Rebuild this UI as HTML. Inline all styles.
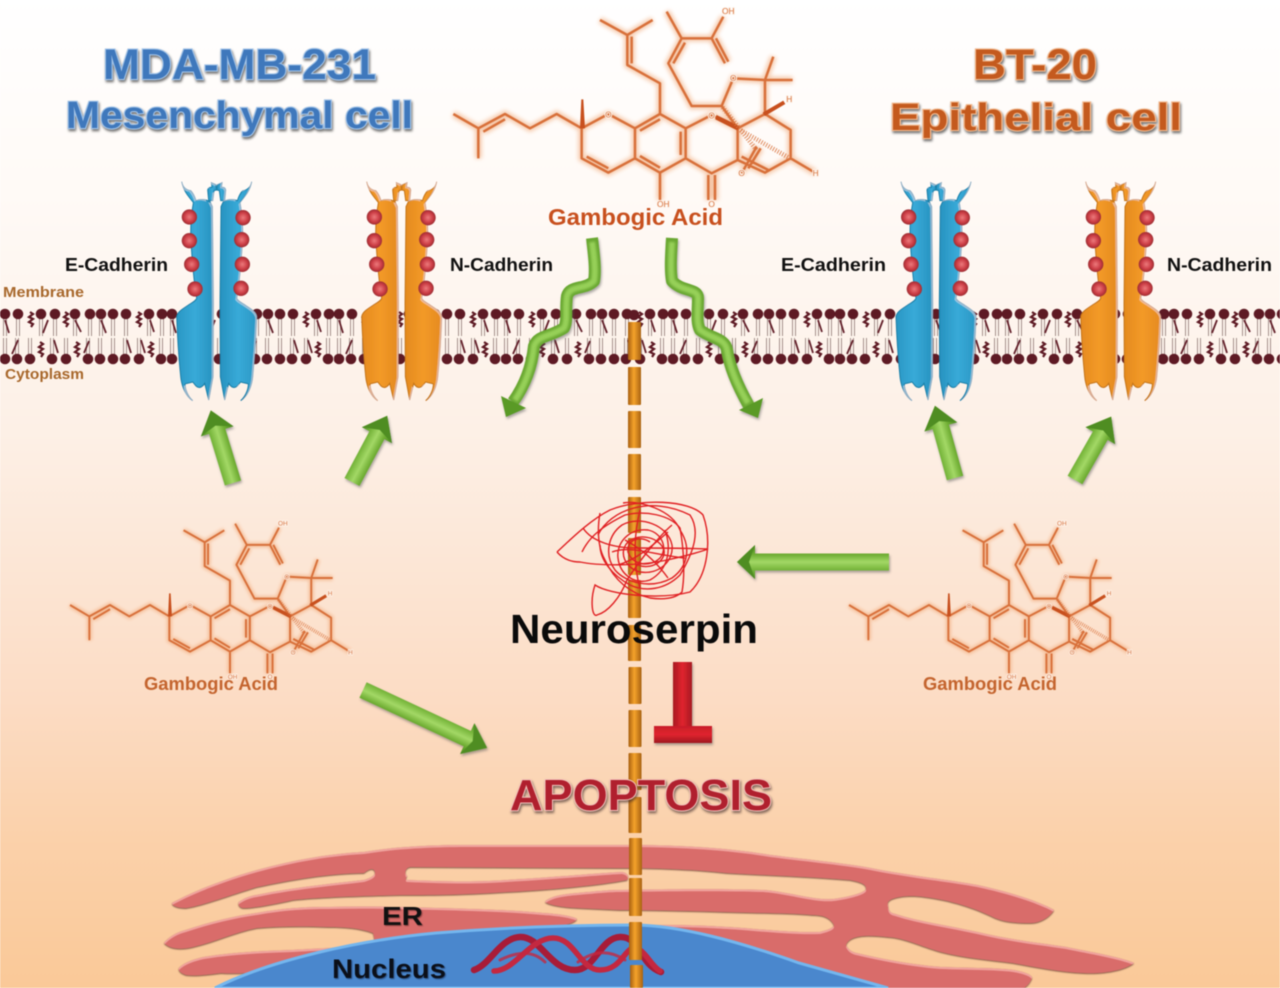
<!DOCTYPE html>
<html lang="en">
<head>
<meta charset="utf-8">
<title>Gambogic Acid diagram</title>
<style>
html,body{margin:0;padding:0;background:#fff}
body{width:1280px;height:988px;overflow:hidden}
svg{display:block;filter:blur(.45px)}
text{font-family:"Liberation Sans",Arial,sans-serif;font-weight:bold}
.title{paint-order:stroke;stroke-width:2.2px}
.tb{fill:#3f78bc;stroke:#a3c4e8;filter:drop-shadow(1.5px 2.5px 1.2px rgba(50,50,50,.7))}
.to{fill:#c45a1e;stroke:#f2b98f;filter:drop-shadow(1.5px 2.5px 1.2px rgba(50,50,50,.7))}
.lab{fill:#a8682c}
.mtext{font-size:25px;font-weight:normal;fill:#d9743f;paint-order:stroke;stroke:#fdf4ec;stroke-width:6px;text-anchor:middle}
</style>
</head>
<body>
<svg width="1280" height="988" viewBox="0 0 1280 988" xmlns="http://www.w3.org/2000/svg">
<defs>
<linearGradient id="bg" x1="0" y1="0" x2="0" y2="1">
<stop offset="0" stop-color="#ffffff"/><stop offset=".2" stop-color="#fffaf6"/><stop offset=".44" stop-color="#fdf0e6"/><stop offset=".71" stop-color="#fcdcc4"/><stop offset=".85" stop-color="#fbd1aa"/><stop offset="1" stop-color="#fac998"/>
</linearGradient>
<linearGradient id="gb" x1="0" y1="0" x2="1" y2="0"><stop offset="0" stop-color="#2a97c4"/><stop offset=".5" stop-color="#38aad8"/><stop offset="1" stop-color="#2792bf"/></linearGradient>
<linearGradient id="go" x1="0" y1="0" x2="1" y2="0"><stop offset="0" stop-color="#e58a1f"/><stop offset=".5" stop-color="#f39a28"/><stop offset="1" stop-color="#e48a1e"/></linearGradient>
<radialGradient id="bead" cx=".5" cy=".5" r=".55"><stop offset="0" stop-color="#ec7a7c"/><stop offset=".6" stop-color="#cb3c44"/><stop offset="1" stop-color="#8f2a2e"/></radialGradient>
<linearGradient id="seg" x1="0" y1="0" x2="1" y2="0"><stop offset="0" stop-color="#a86010"/><stop offset=".45" stop-color="#f5a32b"/><stop offset="1" stop-color="#a86212"/></linearGradient>
<linearGradient id="arr" x1="0" y1="0" x2="0" y2="1"><stop offset="0" stop-color="#4f8f22"/><stop offset=".28" stop-color="#78b63c"/><stop offset=".5" stop-color="#a3d866"/><stop offset=".72" stop-color="#6fad33"/><stop offset="1" stop-color="#4a8a1f"/></linearGradient>
<linearGradient id="red" x1="0" y1="0" x2="1" y2="0"><stop offset="0" stop-color="#a81a22"/><stop offset=".5" stop-color="#e0242e"/><stop offset="1" stop-color="#a81a22"/></linearGradient>
<linearGradient id="redh" x1="0" y1="0" x2="0" y2="1"><stop offset="0" stop-color="#c81e28"/><stop offset=".5" stop-color="#e0242e"/><stop offset="1" stop-color="#a01820"/></linearGradient>
<filter id="gl" x="-10%" y="-10%" width="120%" height="120%"><feGaussianBlur stdDeviation="6"/></filter>
<filter id="sa" x="-20%" y="-20%" width="140%" height="140%"><feDropShadow dx="1" dy="2" stdDeviation="1.2" flood-color="#555" flood-opacity=".5"/></filter>
<filter id="soft" x="-10%" y="-10%" width="120%" height="120%"><feGaussianBlur stdDeviation="1"/></filter>
<filter id="bev" x="-5%" y="-5%" width="110%" height="110%">
<feOffset in="SourceAlpha" dy="2" result="o"/><feComposite in="SourceAlpha" in2="o" operator="out" result="edge"/><feFlood flood-color="#f3a8a2" flood-opacity=".9"/><feComposite in2="edge" operator="in" result="hl"/>
<feDropShadow in="SourceGraphic" dx="0" dy=".8" stdDeviation=".8" flood-color="#5a2e28" flood-opacity=".85" result="s"/>
<feMerge><feMergeNode in="s"/><feMergeNode in="hl"/></feMerge>
</filter>
<filter id="bevw" x="-5%" y="-5%" width="110%" height="110%">
<feOffset in="SourceAlpha" dx="-6" dy="4" result="o"/><feComposite in="SourceAlpha" in2="o" operator="out" result="edge"/><feFlood flood-color="#ffffff" flood-opacity=".28"/><feComposite in2="edge" operator="in" result="hl"/>
<feMerge><feMergeNode in="SourceGraphic"/><feMergeNode in="hl"/></feMerge>
</filter>

<pattern id="lip" patternUnits="userSpaceOnUse" x="0" y="306" width="167" height="62">
<path fill="none" stroke="#9b8582" stroke-width=".9" d="M3.5 12V30M6.5 12V30M16.5 12V30M19.5 12V30M39.5 12V30M42.5 12V30M53.5 12V30M56.5 12V30M73.5 12V30M76.5 12V30M88.5 12V30M91.5 12V30M99.5 12V30M102.5 12V30M111.5 12V30M114.5 12V30M124.5 12V30M127.5 12V30M147.5 12V30M150.5 12V30M160.5 12V30M163.5 12V30
M3.5 49V32M6.5 49V32M15.5 49V32M18.5 49V32M28.5 49V32M31.5 49V32M50.5 49V32M53.5 49V32M64.5 49V32M67.5 49V32M86.5 49V32M89.5 49V32M98.5 49V32M101.5 49V32M111.5 49V32M114.5 49V32M123.5 49V32M126.5 49V32M137.5 49V32M140.5 49V32M159.5 49V32M162.5 49V32"/>
<path fill="none" stroke="#63202a" stroke-width="1.8" d="M5 14L9 27M43 27L48 14M75 14L81 26M101 14L106 27M150 14L154 26M18 34L12 48M54 34L58 47M89 35L84 47M127 34L131 47M141 34L145 47"/>
<path fill="none" stroke="#5e1a24" stroke-width="2.2" d="M30 6l3 2-4 3 4 2-4 3 4 2-2 3M65 6l3 2-4 3 4 2-4 3 4 2-2 3M138 6l3 2-4 3 4 2-4 3 4 2-2 3M40 36l3 2-4 3 4 2-4 3 4 2-2 3M76 36l3 2-4 3 4 2-4 3 4 2-2 3M150 36l3 2-4 3 4 2-4 3 4 2-2 3"/>
<g fill="#5e1a24">
<circle cx="5" cy="8" r="5.3"/><circle cx="18" cy="8" r="5.3"/><circle cx="41" cy="8" r="5.3"/><circle cx="55" cy="8" r="5.3"/><circle cx="75" cy="8" r="5.3"/><circle cx="90" cy="8" r="5.3"/><circle cx="101" cy="8" r="5.3"/><circle cx="113" cy="8" r="5.3"/><circle cx="126" cy="8" r="5.3"/><circle cx="149" cy="8" r="5.3"/><circle cx="162" cy="8" r="5.3"/>
<circle cx="5" cy="53" r="5.3"/><circle cx="17" cy="53" r="5.3"/><circle cx="30" cy="53" r="5.3"/><circle cx="52" cy="53" r="5.3"/><circle cx="66" cy="53" r="5.3"/><circle cx="88" cy="53" r="5.3"/><circle cx="100" cy="53" r="5.3"/><circle cx="113" cy="53" r="5.3"/><circle cx="125" cy="53" r="5.3"/><circle cx="139" cy="53" r="5.3"/><circle cx="161" cy="53" r="5.3"/>
</g>
</pattern>

<g id="half">
<path d="M-105,35 C-102,52 -90,60 -78,62 C-70,70 -66,80 -62,92 C-50,86 -32,88 -20,95 L-13,110 L-10,400 L-11,620 L-24,690 L-36,640 C-45,655 -55,655 -62,648 L-72,636 C-85,640 -92,640 -95,642 C-95,660 -85,680 -72,692 C-92,680 -105,650 -108,620 C-114,560 -118,500 -120,440 C-118,425 -100,415 -85,405 C-72,397 -62,392 -60,385 C-68,340 -76,250 -78,190 C-78,150 -74,120 -70,98 C-78,85 -98,70 -105,35 Z"/>
<path d="M-24,92 L-27,60 C-25,50 -18,52 -14,52 L-16,38 L-2,44 L0,60 L-8,62 L-12,92 Z"/>
</g>
<g id="cad">
<g filter="url(#bevw)">
<use href="#half"/>
<use href="#half" transform="scale(-1,1)"/>
</g>
<g fill="url(#bead)" stroke="none">
<circle cx="-82" cy="141" r="23"/><circle cx="-82" cy="212" r="23"/><circle cx="-75" cy="283" r="23"/><circle cx="-65" cy="357" r="23"/>
<circle cx="79" cy="143" r="23"/><circle cx="75" cy="209" r="23"/><circle cx="77" cy="283" r="23"/><circle cx="73" cy="355" r="23"/>
</g>
</g>

<path id="bonds" d="M40,342L115,385L195,342L270,385L350,342L425,385M115,385V475M130,395L195,358M425,385L505,342L585,385V475L505,518L425,475V385M440,470L505,505M585,385L660,342L737,385V475L660,518L585,475M600,392L660,358M600,468L660,503M722,395V465M737,385L815,345L893,385V480L815,520L737,475M660,342V250L562,195V105L480,60M562,105L638,60M575,110V190M660,518V600M805,525V600M825,525V600M893,385L975,342L1052,390V475L975,518L893,480M905,470L985,510M975,342V240L880,235L845,318L893,385M975,240L1000,170M975,240L1058,240M845,318H755L685,190L725,115L680,35M700,190L735,128M725,115H815L850,50M815,115L855,190M828,115L865,185M1052,475L1125,518M950,440L905,520M962,445L925,505"/>
<g id="mol">
<use href="#bonds" fill="none" stroke="#f0a878" stroke-width="20" opacity=".6" filter="url(#gl)"/>
<use href="#bonds" fill="none" stroke="#d8703a" stroke-width="7.5" stroke-linejoin="round"/>
<path fill="#c8501e" d="M420,385L435,385L430,298L424,298Z M893,392L898,378L830,345L826,358Z M975,348L968,338L1030,302L1036,312Z"/>
<path fill="none" stroke="#d9743f" stroke-width="14" stroke-dasharray="3 5" d="M895,387L1050,475M848,322L950,450" opacity=".85"/>
<text class="mtext" x="505" y="353">O</text><text class="mtext" x="815" y="355">O</text><text class="mtext" x="880" y="243">O</text><text class="mtext" x="865" y="42">OH</text><text class="mtext" x="905" y="528">O</text><text class="mtext" x="815" y="621">O</text><text class="mtext" x="670" y="621">OH</text><text class="mtext" x="1048" y="306">H</text><text class="mtext" x="1127" y="528">H</text>
</g>
</defs>

<rect width="1280" height="988" fill="url(#bg)"/>

<!-- membrane -->
<rect x="0" y="306" width="1280" height="62" fill="url(#lip)"/>
<circle cx="634" cy="315" r="5.3" fill="#5e1a24"/>

<!-- cadherins -->
<use href="#cad" transform="translate(216.7,170) scale(.3333)" fill="url(#gb)" stroke="#1b7fa8" stroke-width="3"/>
<use href="#cad" transform="translate(401.7,170) scale(.3333)" fill="url(#go)" stroke="#c4741a" stroke-width="3"/>
<use href="#cad" transform="translate(936,170) scale(.3333)" fill="url(#gb)" stroke="#1b7fa8" stroke-width="3"/>
<use href="#cad" transform="translate(1120.7,170) scale(.3333)" fill="url(#go)" stroke="#c4741a" stroke-width="3"/>

<!-- ER -->
<g filter="url(#bev)" fill="#d96c6b">
<path d="M172,903 C215,880 290,856 364,852 C400,846 440,845 471,845 L620,845 C680,845 727,848 770,855 C810,860 850,864 870,868 C910,876 950,880 977,885 C1010,892 1040,902 1054,910 C1050,917 1040,923 1031,923 C1015,923 1005,922 995,918 C975,908 950,900 925,897 C905,894 885,898 888,905 C888,912 891,913 895,914 C920,922 950,926 977,932 C1010,940 1040,943 1066,947 C1090,952 1120,957 1134,963 C1125,970 1105,974 1084,973 C1060,972 1035,967 1013,963 C990,960 965,958 941,952 C920,946 905,938 888,937 C870,935 850,934 846,945 C848,950 852,952 856,953 C885,960 915,965 941,967 C970,968 1000,968 1013,970 C1025,972 1032,975 1032,978 C1030,983 1027,986 1024,988 L640,988 L640,925 L656,925 C690,925 710,926 727,927 C760,929 790,933 820,932 C828,930 834,928 834,925 C830,917 822,915 813,915 C790,913 760,913 727,912 C690,911 650,910 620,910 L578,908 C560,907 550,905 545,902 C550,896 565,894 578,893 C600,891 610,890 620,890 C680,889 730,889 763,890 C790,892 815,901 834,899 C850,897 868,892 866,888 C866,884 860,882 850,880 C800,876 760,875 727,873 C690,869 650,868 620,868 L410,867 C405,868 404,874 407,876 C405,879 406,880 407,880 C450,882 480,882 507,880 C560,877 600,873 622,872 C628,873 629,877 627,880 C600,885 550,890 507,892 C460,895 430,895 400,895 C360,896 320,897 293,900 C275,904 255,908 243,908 C238,907 238,903 239,902 C245,898 250,896 257,895 C290,888 330,884 364,880 C370,878 376,876 375,872 C374,868 370,868 364,873 C330,873 290,880 257,887 C230,895 205,905 186,908 C178,908 172,906 172,903 Z"/>
<path d="M164,943 C170,936 178,932 186,930 C210,922 235,916 257,913 C285,908 305,907 329,907 C365,906 400,907 436,908 C475,909 510,910 543,913 C558,914 572,916 577,919 C575,922 568,925 561,925 L480,940 L375,960 C340,965 260,975 221,973 C205,975 195,976 186,975 C180,973 178,970 179,968 C185,962 195,959 204,957 C235,952 265,951 293,950 C325,948 355,948 375,943 C374,938 374,936 373,933 C360,928 345,927 329,927 C305,926 280,926 257,928 C235,932 215,942 193,947 C180,950 170,949 164,943 Z"/>
</g>

<!-- nucleus -->
<path d="M215,988 C270,960 360,940 436,933 C500,928 570,925 632,925 C680,925 740,942 799,963 L888,988 Z" fill="#4a87cd" stroke="#74b6ee" stroke-width="3"/>

<!-- DNA -->
<g fill="none" stroke-linecap="round">
<path d="M474,970 C490,965 500,938 520,937 C540,936 550,970 575,970 C595,970 600,938 620,937 C640,936 640,965 661,972" stroke="#a81c38" stroke-width="6.5"/>
<path d="M494,971 C515,971 530,938 553,938 C575,938 580,970 600,970 C625,970 625,940 640,950 C648,956 652,966 660,971" stroke="#c42840" stroke-width="5.5"/>
<path d="M500,960C520,950 535,952 545,962M578,962C595,950 610,950 625,960" stroke="#c42840" stroke-width="3" opacity=".8"/>
</g>

<!-- central channel -->
<g fill="url(#seg)">
<rect x="628" y="322" width="13" height="38" rx="1"/><rect x="628" y="367" width="13" height="38" rx="1"/><rect x="628" y="411" width="13" height="37" rx="1"/><rect x="628" y="454" width="13" height="36" rx="1"/><rect x="628" y="497" width="13" height="36" rx="1"/><rect x="628" y="538" width="13" height="37" rx="1"/><rect x="628" y="580" width="13" height="38" rx="1"/><rect x="628" y="625" width="13" height="36" rx="1"/><rect x="628.5" y="667" width="13" height="37" rx="1"/><rect x="628.5" y="710" width="13" height="37" rx="1"/><rect x="628.5" y="753" width="13" height="37" rx="1"/><rect x="628.5" y="797" width="13" height="36" rx="1"/><rect x="629" y="838" width="13" height="37" rx="1"/><rect x="629" y="878" width="13" height="38" rx="1"/><rect x="629" y="922" width="13" height="38" rx="1"/><rect x="630" y="965" width="13" height="23" rx="1"/>
</g>

<!-- molecules -->
<use href="#mol" transform="translate(440,0) scale(.3333)"/>
<use href="#mol" transform="translate(59.7,514.4) scale(.258,.265)"/>
<use href="#mol" transform="translate(838.7,514.4) scale(.258,.265)"/>

<!-- straight arrows -->
<g filter="url(#sa)">
<g transform="translate(233,483) rotate(-107)"><path d="M0,-8.5H54V-17L76,0L54,17V8.5H0Z" fill="url(#arr)"/><path d="M54,-17L76,0L54,17L60,0Z" fill="#4f8d24"/></g>
<g transform="translate(352,482) rotate(-62)"><path d="M0,-8.5H53V-17L75,0L53,17V8.5H0Z" fill="url(#arr)"/><path d="M53,-17L75,0L53,17L59,0Z" fill="#4f8d24"/></g>
<g transform="translate(955,478) rotate(-105.5)"><path d="M0,-8.5H53V-17L75,0L53,17V8.5H0Z" fill="url(#arr)"/><path d="M53,-17L75,0L53,17L59,0Z" fill="#4f8d24"/></g>
<g transform="translate(1075,480) rotate(-60.3)"><path d="M0,-8.5H51V-17L73,0L51,17V8.5H0Z" fill="url(#arr)"/><path d="M51,-17L73,0L51,17L57,0Z" fill="#4f8d24"/></g>
<g transform="translate(363,690) rotate(25)"><path d="M0,-8.5H115V-17L137,0L115,17V8.5H0Z" fill="url(#arr)"/><path d="M115,-17L137,0L115,17L121,0Z" fill="#4f8d24"/></g>
<g transform="translate(889,562) rotate(180)"><path d="M0,-8.5H134V-17L152,0L134,17V8.5H0Z" fill="url(#arr)"/><path d="M134,-17L152,0L134,17L140,0Z" fill="#4f8d24"/></g>
</g>

<!-- wavy arrows -->
<g filter="url(#sa)" fill="none" stroke-linejoin="round" stroke-linecap="butt">
<path d="M592,238 C594,255 596,270 594,281 C585,290 570,285 567,296 C565,310 568,320 564,328 C550,337 538,335 534,346 C532,366 525,385 513,402" stroke="#6aa832" stroke-width="12"/>
<path d="M592,242 C594,255 596,270 594,281 C585,290 570,285 567,296 C565,310 568,320 564,328 C550,337 538,335 534,346 C532,366 525,385 515,400" stroke="#96d058" stroke-width="6" filter="url(#soft)"/>
<path d="M501,396L506,417L526,408Z" fill="#5a9a28"/>
<path d="M672,238 C671,255 670,270 672,281 C682,292 698,288 698,298 C698,312 696,322 700,330 C712,339 725,338 727,350 C730,370 740,390 749,406" stroke="#6aa832" stroke-width="12"/>
<path d="M672,242 C671,255 670,270 672,281 C682,292 698,288 698,298 C698,312 696,322 700,330 C712,339 725,338 727,350 C730,370 740,390 748,403" stroke="#96d058" stroke-width="6" filter="url(#soft)"/>
<path d="M739,410L758,418L763,398Z" fill="#5a9a28"/>
</g>

<!-- inhibition T -->
<g filter="url(#sa)">
<rect x="673" y="662" width="19" height="66" fill="url(#red)"/>
<rect x="654" y="726" width="58" height="17" fill="url(#redh)"/>
</g>

<!-- neuroserpin scribble -->
<g fill="none" stroke="#e01f22" stroke-width="1.4">
<path d="M557,552C570,540 590,520 610,510C640,498 690,500 703,515C712,540 708,575 690,592C660,600 610,595 595,585C590,600 592,618 597,615C608,612 620,598 627,580C640,560 660,535 672,525"/>
<path d="M557,552C564,560 572,562 580,562C600,566 640,566 667,560C685,556 700,552 708,549C685,548 655,548 635,548C615,548 592,542 583,528"/>
<path d="M600,513C597,530 598,548 605,560C612,575 625,592 650,598C665,600 676,598 682,592C685,575 684,550 680,528C670,515 645,510 625,515C605,525 590,535 582,552"/>
<path d="M623,503C640,500 672,510 680,530C690,545 690,565 672,578C650,590 625,582 615,570C604,555 608,535 622,525C640,515 668,525 672,545C674,560 660,575 640,572C625,568 618,552 628,542C640,532 660,538 664,550C666,562 650,570 638,565"/>
<path d="M665,530C672,550 668,570 650,580C635,585 620,575 618,558C616,542 630,528 648,530C662,533 668,548 660,558C650,568 632,565 628,552C626,540 640,535 650,542M612,552C630,545 655,555 685,558M640,510C635,530 632,560 640,588M625,540C640,548 655,560 668,578M618,565C635,560 650,548 668,532"/>
<path d="M598,535C610,510 650,495 690,515C700,530 695,550 680,575C665,590 645,592 630,585C612,575 600,560 600,545"/>
</g>

<!-- titles -->
<text class="title tb" x="103" y="79" font-size="43" textLength="273" lengthAdjust="spacingAndGlyphs">MDA-MB-231</text>
<text class="title tb" x="66" y="128" font-size="38" textLength="347" lengthAdjust="spacingAndGlyphs">Mesenchymal cell</text>
<text class="title to" x="973" y="79" font-size="43" textLength="124" lengthAdjust="spacingAndGlyphs">BT-20</text>
<text class="title to" x="890" y="130" font-size="38" textLength="292" lengthAdjust="spacingAndGlyphs">Epithelial cell</text>

<!-- labels -->
<text x="65" y="271" font-size="18.5" fill="#111" textLength="103" lengthAdjust="spacingAndGlyphs">E-Cadherin</text>
<text x="450" y="271" font-size="18.5" fill="#111" textLength="103" lengthAdjust="spacingAndGlyphs">N-Cadherin</text>
<text x="781" y="271" font-size="18.5" fill="#111" textLength="105" lengthAdjust="spacingAndGlyphs">E-Cadherin</text>
<text x="1167" y="271" font-size="18.5" fill="#111" textLength="105" lengthAdjust="spacingAndGlyphs">N-Cadherin</text>
<text class="lab" x="3" y="297" font-size="14.5" textLength="81" lengthAdjust="spacingAndGlyphs">Membrane</text>
<text class="lab" x="5" y="379" font-size="14.5" textLength="79" lengthAdjust="spacingAndGlyphs">Cytoplasm</text>

<text x="548" y="225" font-size="23" fill="#c8501e" textLength="175" lengthAdjust="spacingAndGlyphs">Gambogic Acid</text>
<text x="144" y="690" font-size="18" fill="#c4642e" textLength="134" lengthAdjust="spacingAndGlyphs">Gambogic Acid</text>
<text x="923" y="690" font-size="18" fill="#c4642e" textLength="134" lengthAdjust="spacingAndGlyphs">Gambogic Acid</text>

<text x="510" y="643" font-size="41" fill="#0a0a0a" textLength="248" lengthAdjust="spacingAndGlyphs">Neuroserpin</text>
<text x="510" y="810" font-size="44" fill="#b0202e" stroke="#f3c4bc" stroke-width="2" style="paint-order:stroke;filter:drop-shadow(1.5px 2.5px 1.2px rgba(60,40,40,.65))" textLength="262" lengthAdjust="spacingAndGlyphs">APOPTOSIS</text>
<text x="382" y="925" font-size="26" fill="#111" textLength="41" lengthAdjust="spacingAndGlyphs" style="filter:drop-shadow(1px 1px .6px rgba(60,20,20,.5))">ER</text>
<text x="332" y="978" font-size="27" fill="#0b0f18" textLength="114" lengthAdjust="spacingAndGlyphs" style="filter:drop-shadow(1px 1px .6px rgba(10,20,50,.5))">Nucleus</text>
</svg>
</body>
</html>
